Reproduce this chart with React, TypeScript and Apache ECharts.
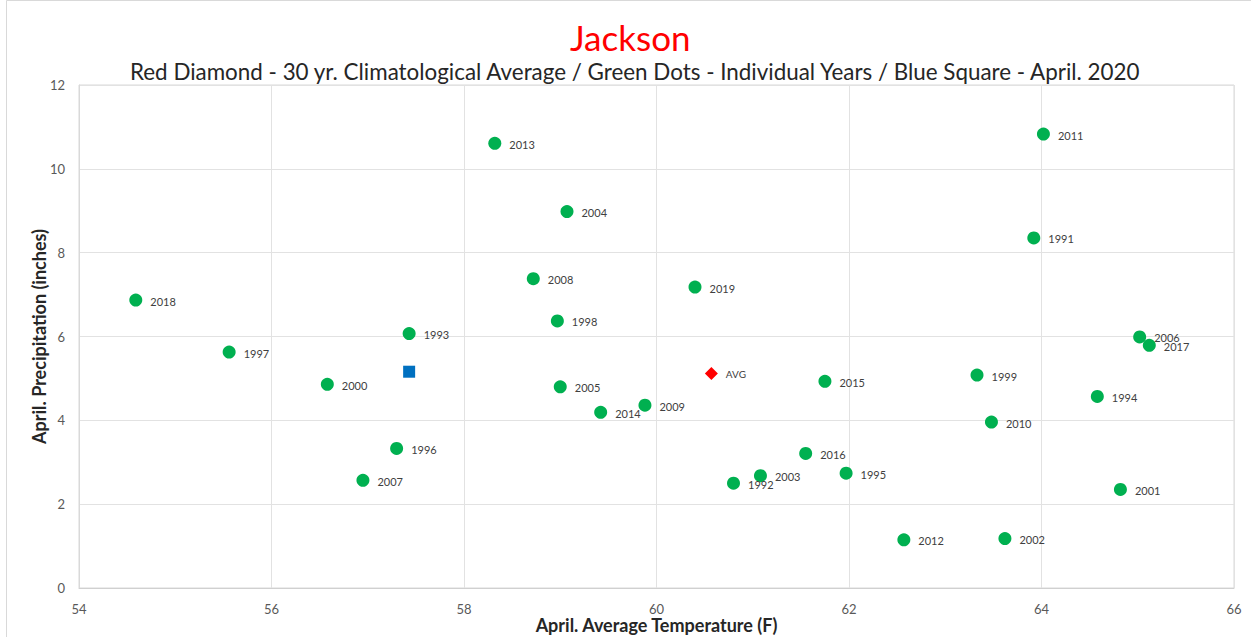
import React, { useEffect, useRef } from "react";
import * as echarts from "echarts";

const years = [
  "2018", "1997", "2000", "1993", "1996", "2007", "2013", "2004", "2008", "2019",
  "1998", "2005", "2014", "2009", "2015", "1992", "2003", "2016", "1995", "2012",
  "2002", "2001", "2010", "1999", "1994", "2006", "2017", "1991", "2011",
];
const temps = [
  54.59, 55.56, 56.58, 57.43, 57.3, 56.95, 58.32, 59.07, 58.72, 60.4,
  58.97, 59.0, 59.42, 59.88, 61.75, 60.8, 61.08, 61.55, 61.97, 62.57,
  63.62, 64.82, 63.48, 63.33, 64.58, 65.02, 65.12, 63.92, 64.02,
];
const precips = [
  6.87, 5.63, 4.86, 6.07, 3.33, 2.57, 10.61, 8.98, 7.38, 7.18,
  6.37, 4.8, 4.19, 4.36, 4.93, 2.5, 2.68, 3.21, 2.74, 1.15,
  1.18, 2.35, 3.96, 5.08, 4.57, 5.99, 5.79, 8.35, 10.83,
];
const avgPoint = [60.57, 5.12];
const currentPoint = [57.43, 5.16];

const titleText = "Jackson";
const subtitleText =
  "Red Diamond - 30 yr. Climatological Average / Green Dots - Individual Years / Blue Square - April. 2020";
const xName = "April. Average Temperature (F)";
const yName = "April. Precipitation (inches)";

const FONT = "Lato";

export default function App() {
  const ref = useRef<HTMLDivElement>(null);
  useEffect(() => {
    if (!ref.current) return;
    const chart = echarts.init(ref.current, null, { renderer: "svg" });
    const greenData = years.map((y, i) => [temps[i], precips[i], y]);
    const labelStyle = {
      show: true,
      position: "right" as const,
      distance: 8,
      fontSize: 11,
      fontFamily: FONT,
      color: "#404040",
      offset: [0, 1],
    };
    chart.setOption({
      animation: false,
      backgroundColor: "#fff",
      textStyle: { fontFamily: FONT },
      graphic: [
        {
          type: "rect",
          shape: { x: 6.5, y: 0.5, width: 1300, height: 700 },
          style: { fill: "none", stroke: "#d9d9d9", lineWidth: 1 },
          silent: true,
        },
      ],
      title: [
        {
          text: titleText,
          left: 565,
          top: 14,
          textStyle: { color: "#ff0000", fontSize: 35, fontWeight: "normal", fontFamily: FONT },
        },
        {
          text: subtitleText,
          left: 125,
          top: 55,
          textStyle: { color: "#262626", fontSize: 22.4, fontWeight: "normal", fontFamily: FONT },
        },
      ],
      grid: {
        left: 79,
        right: 17,
        top: 85,
        bottom: 49,
        show: true,
        borderColor: "#d9d9d9",
        borderWidth: 1,
        outerBoundsMode: "none",
        containLabel: false,
      },
      xAxis: {
        type: "value",
        min: 54,
        max: 66,
        interval: 2,
        name: xName,
        nameLocation: "middle",
        nameGap: 28,
        nameMoveOverlap: false,
        nameTextStyle: { fontSize: 18, fontWeight: "bold", color: "#262626", fontFamily: FONT },
        axisLine: { show: true, lineStyle: { color: "#d0d0d0" } },
        axisTick: { show: false },
        axisLabel: { color: "#595959", fontSize: 13, margin: 14, fontFamily: FONT },
        splitLine: { show: true, lineStyle: { color: "#e2e2e2" } },
      },
      yAxis: {
        type: "value",
        min: 0,
        max: 12,
        interval: 2,
        name: yName,
        nameLocation: "middle",
        nameGap: 31,
        nameMoveOverlap: false,
        nameTextStyle: { fontSize: 18, fontWeight: "bold", color: "#262626", fontFamily: FONT },
        axisLine: { show: true, lineStyle: { color: "#d9d9d9" } },
        axisTick: { show: false },
        axisLabel: { color: "#595959", fontSize: 13, margin: 14, fontFamily: FONT },
        splitLine: { show: true, lineStyle: { color: "#e2e2e2" } },
      },
      series: [
        {
          type: "scatter",
          symbol: "circle",
          symbolSize: 13,
          itemStyle: { color: "#00b050", opacity: 1 },
          data: greenData,
          label: { ...labelStyle, formatter: (p: any) => p.value[2] },
        },
        {
          type: "scatter",
          symbol: "diamond",
          symbolSize: [13, 13],
          itemStyle: { color: "#ff0000", opacity: 1 },
          data: [[avgPoint[0], avgPoint[1], "AVG"]],
          label: { ...labelStyle, fontSize: 10, formatter: (p: any) => p.value[2] },
        },
        {
          type: "scatter",
          symbol: "rect",
          symbolSize: 12,
          itemStyle: { color: "#0070c0", opacity: 1 },
          data: [[currentPoint[0], currentPoint[1]]],
        },
      ],
    });
    return () => chart.dispose();
  }, []);
  return (
    <div
      ref={ref}
      style={{ position: "fixed", left: 0, top: 0, width: 1251, height: 637 }}
    />
  );
}
